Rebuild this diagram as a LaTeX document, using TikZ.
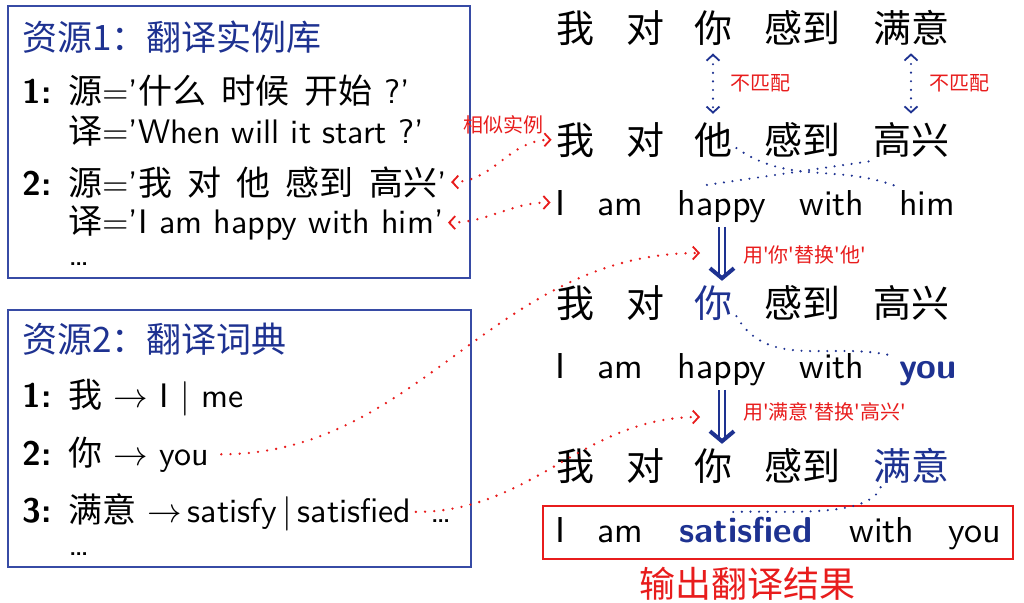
\documentclass[tikz,border=0pt]{standalone}
\usepackage{fontspec}
\usepackage{amsmath,amssymb}
\usetikzlibrary{arrows.meta}
\setsansfont{lmsans10-regular}[Extension=.otf,BoldFont=lmsans10-bold,Ligatures=TeX]
\newfontfamily\cjk[WordSpace=2]{Noto Sans CJK SC}
\newcommand{\zh}[1]{{\cjk #1}}
\definecolor{navy}{RGB}{30,50,145}
\definecolor{boxblue}{RGB}{55,75,165}
\definecolor{hlred}{RGB}{232,28,28}

\begin{document}
\begin{tikzpicture}[x=0.5pt,y=0.5pt,>={Straight Barb[length=3pt,width=6.5pt,line width=0.9pt]},
    resbox/.style={draw=boxblue,line width=0.8pt},
    num/.style={anchor=base west,inner sep=2pt,font=\sffamily\bfseries\fontsize{17}{20}\selectfont},
    line/.style={anchor=base west,inner sep=2pt,font=\sffamily\fontsize{17}{20}\selectfont},
    head/.style={line,text=navy,font=\cjk\fontsize{17.5}{20}\selectfont},
    zhword/.style={anchor=base,inner sep=2pt,font=\cjk\fontsize{19}{22}\selectfont},
    enword/.style={anchor=base,inner sep=2pt,font=\sffamily\fontsize{18}{22}\selectfont},
    note/.style={anchor=west,inner sep=1pt,text=hlred,font=\cjk\fontsize{10}{12}\selectfont},
    align/.style={navy,line width=1.2pt,line cap=round,dash pattern=on 0pt off 4.3pt},
    link/.style={hlred,line width=1.3pt,line cap=round,dash pattern=on 0pt off 4.6pt},
    repl/.style={navy,line width=1.2pt,double,double distance=2pt,
      -{Straight Barb[length=5pt,width=12pt,line width=2pt]}}]
  \useasboundingbox (0,0) rectangle (1024,-602);

  % resource 1: example base
  \draw[resbox] (8,-6) rectangle (470,-278);
  \node[head] (t1) at (18,-50) {资源1：翻译实例库};
  \node[num] (n1) at (18,-103) {1:};
  \node[line] (e1s) at (64,-103) {\zh{源}='\zh{什么 时候 开始} ?'};
  \node[line] (e1t) at (64,-143) {\zh{译}='When will it start ?'};
  \node[num] (n2) at (18,-195) {2:};
  \node[line] (e2s) at (64,-195) {\zh{源}='\zh{我 对 他 感到 高兴}'};
  \node[line] (e2t) at (64,-233) {\zh{译}='I am happy with him'};
  \node[line] (e3) at (64,-265) {\dots};

  % resource 2: dictionary
  \draw[resbox] (8,-310) rectangle (471,-567);
  \node[head] (t2) at (18,-352) {资源2：翻译词典};
  \node[num] (m1) at (18,-407) {1:};
  \node[line] (w1) at (64,-407) {\zh{我} $\rightarrow$ I $|$ me};
  \node[num] (m2) at (18,-465) {2:};
  \node[line] (w2) at (64,-465) {\zh{你} $\rightarrow$ you};
  \node[num] (m3) at (18,-522) {3:};
  \node[line] (w3) at (64,-522) {\zh{满意} $\rightarrow$\,satisfy\,$|$\,satisfied};
  \node[line] (w3d) at (426,-522) {\dots};
  \node[line] (w4) at (64,-555) {\dots};

  % sentence rows
  \foreach \w/\x [count=\i] in {我/575,对/645,你/713,感到/802,满意/911}
    \node[zhword] (ra\i) at (\x,-42) {\w};
  \foreach \w/\x [count=\i] in {我/575,对/645,他/713,感到/802,高兴/911}
    \node[zhword] (rb\i) at (\x,-154) {\w};
  \foreach \w/\x [count=\i] in {I/560,am/620,happy/722,with/832,him/927}
    \node[enword] (rc\i) at (\x,-215) {\w};
  \foreach \w/\x/\c [count=\i] in {我/575/black,对/645/black,你/713/navy,感到/802/black,高兴/911/black}
    \node[zhword,text=\c] (rd\i) at (\x,-317) {\w};
  \foreach \w/\x/\c/\f [count=\i] in {I/560/black/\relax,am/620/black/\relax,happy/722/black/\relax,with/832/black/\relax,you/928/navy/\bfseries}
    \node[enword,text=\c] (re\i) at (\x,-378) {\f\w};
  \foreach \w/\x/\c [count=\i] in {我/575/black,对/645/black,你/713/black,感到/802/black,满意/911/navy}
    \node[zhword,text=\c] (rf\i) at (\x,-480) {\w};
  \foreach \w/\x/\c/\f [count=\i] in {I/560/black/\relax,am/620/black/\relax,satisfied/746/navy/\bfseries,with/882/black/\relax,you/975/black/\relax}
    \node[enword,text=\c] (rg\i) at (\x,-542) {\f\w};

  \draw[hlred,line width=1pt] (543,-506) rectangle (1013,-559);
  \node[text=hlred,font=\cjk\fontsize{18}{22}\selectfont] (res) at (747,-584) {输出翻译结果};

  % mismatches
  \draw[align,<->,shorten <=2pt,shorten >=2pt] (ra3) -- (rb3);
  \draw[align,<->,shorten <=2pt,shorten >=2pt] (ra5) -- (rb5);
  \node[note] (nm1) at (728,-83) {不匹配};
  \node[note] (nm2) at (927,-83) {不匹配};

  % word alignments
  \draw[align] (rb3.-20) to[out=-35,in=160] (rc5.north west);
  \draw[align] (rb5.south west) -- ([xshift=-10pt]rc3.north);
  \draw[align] (rd3.-30) to[out=-60,in=165] (re5.north west);
  \draw[align] ([xshift=6pt]rf5.south west) to[out=-110,in=5,looseness=0.6] ([xshift=-8pt]rg3.north);

  % replacement steps
  \draw[repl] (rc3.south) -- (rc3.south |- rd3.north);
  \draw[repl] (re3.south) -- (re3.south |- rf3.north);
  \node[note] (rp1) at (741,-255) {用'你'替换'他'};
  \node[note] (rp2) at (741,-412) {用'满意'替换'高兴'};
  \coordinate (hit1) at (700,-253);
  \coordinate (hit2) at (700,-417);

  % links into the resources
  \node[note] (sim) at (461,-125) {相似实例};
  \draw[link,<->] (e2s.east) to[out=0,in=180] (rb1.west);
  \draw[link,<->] (e2t.east) to[out=0,in=180] (rc1.west);
  \draw[link,->,shorten <=4pt] (w2.east) to[out=0,in=180] (hit1);
  \draw[link,->] (w3.east) to[out=0,in=180] (hit2);
\end{tikzpicture}
\end{document}
